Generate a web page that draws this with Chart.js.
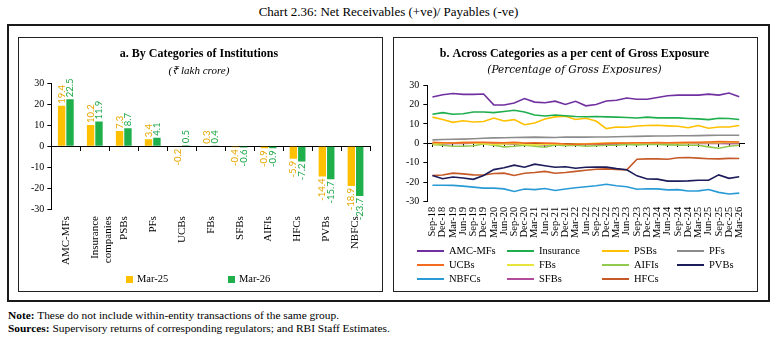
<!DOCTYPE html>
<html><head><meta charset="utf-8">
<script src="https://cdn.jsdelivr.net/npm/chart.js@4.4.1/dist/chart.umd.min.js"></script>
<style>
html,body{margin:0;padding:0;background:#fff;}
body{width:777px;height:338px;position:relative;overflow:hidden;font-family:"Liberation Serif",serif;color:#000;}
#title{position:absolute;left:0;width:777px;top:4px;text-align:center;font-size:13px;line-height:16px;}
#outer{position:absolute;left:7px;top:24px;width:763px;height:278px;box-sizing:border-box;border:2.5px solid #1a1a1a;}
.panel{position:absolute;top:37px;height:255px;box-sizing:border-box;border:1px solid #222;}
#pa{left:18px;width:365px;}
#pb{left:393px;width:365px;}
canvas{position:absolute;}
#ca{left:19px;top:38px;}
#cb{left:394px;top:38px;}
.note{position:absolute;left:8px;font-size:11.4px;line-height:12px;white-space:nowrap;}
.lg{position:absolute;font-size:10.5px;line-height:12px;white-space:nowrap;}
.sq{position:absolute;width:7px;height:7px;}
.ln{position:absolute;width:27px;height:2px;}
</style>
</head>
<body>
<div id="title">Chart 2.36: Net Receivables (+ve)/ Payables (-ve)</div>
<div id="outer"></div>
<div class="panel" id="pa"></div>
<div class="panel" id="pb"></div>
<canvas id="ca" width="363" height="253"></canvas>
<canvas id="cb" width="363" height="253"></canvas>
<div id="legA"></div>
<div id="legB"></div>
<div class="note" style="top:309px"><b>Note:</b> These do not include within-entity transactions of the same group.</div>
<div class="note" style="top:322px"><b>Sources:</b> Supervisory returns of corresponding regulators; and RBI Staff Estimates.</div>
<script>
// ---- Panel a data ----
const categoriesA = ['AMC-MFs', ['Insurance', 'companies'], 'PSBs', 'PFs', 'UCBs', 'FBs', 'SFBs', 'AIFIs', 'HFCs', 'PVBs', 'NBFCs'];
const mar25 = [19.4, 10.2, 7.3, 3.4, -0.2, 0.3, -0.4, -0.9, -5.9, -14.4, -18.9];
const mar26 = [22.5, 11.9, 8.7, 4.1, 0.5, 0.4, -0.6, -0.9, -7.2, -15.7, -23.7];
const seriesA = ['Mar-25', 'Mar-26'];

// ---- Panel b data ----
const quarters = ['Sep-18','Dec-18','Mar-19','Jun-19','Sep-19','Dec-19','Mar-20','Jun-20','Sep-20','Dec-20','Mar-21','Jun-21','Sep-21','Dec-21','Mar-22','Jun-22','Sep-22','Dec-22','Mar-23','Jun-23','Sep-23','Dec-23','Mar-24','Jun-24','Sep-24','Dec-24','Mar-25','Jun-25','Sep-25','Dec-25','Mar-26'];
const amcMfs    = [23.8,25.0,25.6,25.2,25.2,25.4,19.8,19.7,20.7,23.0,21.2,20.9,21.7,20.0,21.6,19.3,20.0,21.8,22.2,23.3,22.7,22.7,23.6,24.5,24.8,24.8,24.8,25.3,24.8,25.9,23.9];
const insurance = [15.0,15.8,15.0,15.2,16.1,16.1,15.8,16.4,17.0,16.1,14.6,14.1,14.6,14.2,13.8,13.7,13.8,13.6,13.5,13.3,13.0,13.5,13.1,13.1,13.1,12.8,12.6,12.2,12.9,12.8,12.3];
const psbs      = [13.5,12.3,10.8,11.6,11.0,11.2,13.0,11.5,12.2,9.6,10.5,12.5,13.6,14.0,12.3,12.9,11.5,7.6,8.4,8.3,8.9,9.2,9.3,9.0,8.8,8.0,9.2,7.8,8.4,8.4,9.2];
const pfs       = [1.8,2.0,2.1,2.2,2.4,2.6,2.8,2.9,3.0,3.1,3.2,3.1,3.0,3.3,3.2,3.2,3.3,3.3,3.4,3.5,3.6,3.7,3.8,3.8,3.9,3.9,4.0,4.1,4.2,4.2,4.2];
const ucbs      = [0.5,0.3,0.2,0.4,0.5,0.6,0.4,0.3,0.5,0.2,0.3,0.1,0.0,-0.3,-0.5,-0.3,-0.2,0.0,0.1,0.2,0.3,0.3,0.4,0.3,0.4,0.5,0.6,0.7,0.9,0.8,0.7];
const fbs       = [-0.3,0.0,0.3,0.5,0.2,-0.2,-0.5,-0.3,0.0,-0.5,-0.8,-0.5,-0.3,-0.6,-0.4,-0.2,0.0,0.2,0.3,0.2,0.1,0.3,0.2,0.3,0.1,0.2,0.4,0.5,0.3,0.6,0.5];
const aifis     = [-0.5,-1.0,-1.5,-1.5,-1.2,-0.3,-1.0,-1.8,-1.5,-1.0,-1.5,-2.0,-0.8,-1.2,-1.0,-1.5,-1.2,-1.0,-1.0,-0.5,-0.8,-0.5,-0.6,-0.8,-0.9,-1.0,-1.0,-1.8,-2.5,-1.5,-1.0];
const pvbs      = [-16.5,-18.2,-17.3,-17.8,-18.5,-16.5,-13.5,-12.5,-11.2,-12.3,-10.7,-11.5,-12.3,-12.0,-12.8,-12.3,-12.2,-12.2,-13.0,-13.6,-16.7,-18.3,-18.4,-19.4,-19.4,-19.3,-19.0,-19.0,-16.2,-18.0,-17.2];
const nbfcs     = [-21.5,-21.5,-21.6,-22.0,-22.5,-23.0,-23.0,-23.4,-24.7,-23.5,-23.8,-23.2,-24.2,-23.5,-22.8,-22.3,-21.8,-21.0,-21.8,-22.3,-23.6,-23.3,-23.4,-23.9,-23.8,-24.5,-24.4,-23.7,-25.2,-26.0,-25.6];
const sfbs      = [-0.2,-0.3,-0.1,0.0,0.1,0.2,0.0,-0.2,-0.4,-0.5,-0.6,-0.8,-0.6,-0.9,-0.7,-0.5,-0.6,-0.4,-0.3,-0.2,-0.1,0.0,0.1,0.0,-0.1,0.0,0.0,0.1,0.0,-0.2,-0.1];
const hfcs      = [-16.5,-16.3,-15.3,-15.7,-16.2,-16.3,-15.5,-15.3,-16.5,-15.4,-15.0,-14.4,-15.4,-15.0,-14.4,-13.8,-13.3,-13.1,-13.4,-13.6,-8.2,-8.0,-8.0,-8.2,-7.4,-7.3,-7.6,-7.9,-8.0,-7.7,-7.8];
const seriesNamesB = ['AMC-MFs','Insurance','PSBs','PFs','UCBs','FBs','AIFIs','PVBs','NBFCs','SFBs','HFCs'];
const seriesValuesB = [amcMfs, insurance, psbs, pfs, ucbs, fbs, aifis, pvbs, nbfcs, sfbs, hfcs];
const seriesColorsB = ['#7030A0','#1FAE4E','#FFC000','#8C8C8C','#F26B21','#E8E43C','#92C94F','#1C1C5A','#2A9AD6','#B14B9C','#C55A28'];

const SERIF = '"Liberation Serif", serif';
const colA = ['#FFC000', '#1FB04B'];
const colAText = ['#E8A800', '#1FA84A'];

const barLabels = {
  id: 'barLabels',
  afterDatasetsDraw(chart) {
    const ctx = chart.ctx;
    chart.data.datasets.forEach((ds, i) => {
      const meta = chart.getDatasetMeta(i);
      meta.data.forEach((bar, j) => {
        const v = ds.data[j];
        ctx.save();
        ctx.translate(bar.x, bar.y);
        ctx.rotate(-Math.PI / 2);
        ctx.fillStyle = colAText[i];
        ctx.font = '9.5px Lato, "Liberation Sans", sans-serif';
        ctx.textBaseline = 'middle';
        if (v >= 0) { ctx.textAlign = 'left'; ctx.fillText(v.toFixed(1), 2, 0); }
        else { ctx.textAlign = 'right'; ctx.fillText(v.toFixed(1), -2, 0); }
        ctx.restore();
      });
    });
  }
};

const yAxis = (pad) => ({
  min: -30, max: 30,
  ticks: { stepSize: 10, color: '#000', font: { family: SERIF, size: 10 }, padding: pad },
  grid: { drawOnChartArea: false, drawTicks: true, tickLength: 4, color: '#000' },
  border: { color: '#000', width: 1 }
});

new Chart(document.getElementById('ca'), {
  type: 'bar',
  data: {
    labels: categoriesA,
    datasets: [
      { label: seriesA[0], data: mar25, backgroundColor: colA[0], categoryPercentage: 0.58, barPercentage: 0.88 },
      { label: seriesA[1], data: mar26, backgroundColor: colA[1], categoryPercentage: 0.58, barPercentage: 0.88 }
    ]
  },
  options: {
    responsive: false, animation: false, devicePixelRatio: 1,
    layout: { padding: { left: 9, right: 12, top: 0, bottom: 19 } },
    plugins: {
      legend: { display: false }, tooltip: { enabled: false },
      title: { display: true, text: 'a. By Categories of Institutions', color: '#000', font: { family: SERIF, size: 12, weight: 'bold' }, padding: { top: 9, bottom: 0 } },
      subtitle: { display: true, text: '(₹ lakh crore)', color: '#000', font: { family: SERIF, size: 11, style: 'italic' }, padding: { top: 3, bottom: 6 } }
    },
    scales: {
      x: { position: { y: 0 }, offset: true, ticks: { display: false },
           grid: { offset: true, drawOnChartArea: false, drawTicks: true, tickLength: 4, color: '#000' },
           border: { color: '#000', width: 1 } },
      x2: { type: 'category', position: 'bottom', offset: true,
            grid: { display: false, drawTicks: false }, border: { display: false },
            ticks: { maxRotation: 90, minRotation: 90, autoSkip: false, color: '#000', font: { family: SERIF, size: 11 }, padding: 7 } },
      y: yAxis(3)
    }
  },
  plugins: [barLabels]
});

new Chart(document.getElementById('cb'), {
  type: 'line',
  data: {
    labels: quarters,
    datasets: seriesNamesB.map((n, i) => ({
      label: n, data: seriesValuesB[i], borderColor: seriesColorsB[i], backgroundColor: seriesColorsB[i],
      borderWidth: 1.6, pointRadius: 0, tension: 0, fill: false
    }))
  },
  options: {
    responsive: false, animation: false, devicePixelRatio: 1,
    layout: { padding: { left: 8, right: 10, top: 0, bottom: 48 } },
    plugins: {
      legend: { display: false }, tooltip: { enabled: false },
      title: { display: true, text: 'b. Across Categories as a per cent of Gross Exposure', color: '#000', font: { family: SERIF, size: 12, weight: 'bold' }, padding: { top: 9, bottom: 0 } },
      subtitle: { display: true, text: '(Percentage of Gross Exposures)', color: '#000', font: { family: '"DejaVu Serif", serif', size: 10.5, style: 'italic' }, padding: { top: 3, bottom: 8 } }
    },
    scales: {
      x: { position: { y: 0 }, offset: true, ticks: { display: false },
           grid: { offset: false, drawOnChartArea: false, drawTicks: true, tickLength: 3, color: '#000' },
           border: { color: '#000', width: 1 } },
      x2: { type: 'category', position: 'bottom', offset: true,
            grid: { display: false, drawTicks: false }, border: { display: false },
            ticks: { maxRotation: 90, minRotation: 90, autoSkip: false, color: '#000', font: { family: SERIF, size: 10.5 }, padding: 5 } },
      y: yAxis(4)
    }
  }
});

// ---- HTML legends ----
const legA = document.getElementById('legA');
const posA = [126, 228];
seriesA.forEach((n, i) => {
  legA.insertAdjacentHTML('beforeend',
    `<div class="sq" style="left:${posA[i]}px;top:276px;background:${colA[i]}"></div>` +
    `<div class="lg" style="left:${posA[i] + 11}px;top:273px">${n}</div>`);
});
const legB = document.getElementById('legB');
const colX = [417, 507, 602, 677];
const rowY = [251, 265, 279];
seriesNamesB.forEach((n, i) => {
  const c = i % 4, r = Math.floor(i / 4);
  legB.insertAdjacentHTML('beforeend',
    `<div class="ln" style="left:${colX[c]}px;top:${rowY[r] - 1}px;background:${seriesColorsB[i]}"></div>` +
    `<div class="lg" style="left:${colX[c] + 32}px;top:${rowY[r] - 6}px">${n}</div>`);
});
</script>
</body></html>
